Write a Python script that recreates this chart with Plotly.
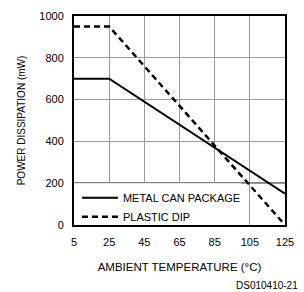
import plotly.graph_objects as go

# Data
temp_metal = [5, 25, 125]
power_metal = [700, 700, 150]
temp_dip = [5, 25, 125]
power_dip = [950, 950, 0]
x_ticks = [5, 25, 45, 65, 85, 105, 125]
y_ticks = [0, 200, 400, 600, 800, 1000]
series_names = ["METAL CAN PACKAGE", "PLASTIC DIP"]

FONT = "Liberation Sans, Arial, sans-serif"

fig = go.Figure()
fig.add_trace(go.Scatter(x=temp_metal, y=power_metal, mode="lines", name=series_names[0],
                         line=dict(color="black", width=2)))
fig.add_trace(go.Scatter(x=temp_dip, y=power_dip, mode="lines", name=series_names[1],
                         line=dict(color="black", width=2.5, dash="6px,4px")))

# white legend box covering grid below 200
fig.add_shape(type="rect", xref="x", yref="y", x0=5, x1=100, y0=0, y1=200,
              fillcolor="white", line=dict(width=0), layer="between")
fig.add_shape(type="line", xref="paper", yref="y", x0=0, x1=1, y0=200, y1=200,
              line=dict(color="black", width=1.5), layer="between")

fig.update_xaxes(range=[5, 125], tickvals=x_ticks, ticktext=[str(v) for v in x_ticks],
                 showgrid=True, gridcolor="#9a9a9a", gridwidth=1,
                 showline=True, linecolor="black", linewidth=2, mirror=True,
                 ticks="", zeroline=False, ticklabelstandoff=6,
                 tickfont=dict(family=FONT, size=11, color="black"),
                 title=dict(text="AMBIENT TEMPERATURE (°C)", standoff=16,
                            font=dict(family=FONT, size=11.5, color="black")))
fig.update_yaxes(range=[0, 1000], tickvals=y_ticks, ticktext=[str(v) for v in y_ticks],
                 showgrid=True, gridcolor="#9a9a9a", gridwidth=1,
                 showline=True, linecolor="black", linewidth=2, mirror=True,
                 ticks="", zeroline=False, ticklabelstandoff=6,
                 tickfont=dict(family=FONT, size=11, color="black"),
                 title=dict(text="POWER DISSIPATION (mW)", standoff=12,
                            font=dict(family=FONT, size=10, color="black")))

fig.add_annotation(text="DS010410-21", xref="paper", yref="paper", x=1.07, y=-0.288,
                   xanchor="right", yanchor="middle", showarrow=False,
                   font=dict(family=FONT, size=10, color="black"))

fig.update_layout(
    width=304, height=292,
    margin=dict(l=74, r=14, t=10, b=67),
    paper_bgcolor="white", plot_bgcolor="white",
    showlegend=True,
    legend=dict(x=0.014, y=0.2, xanchor="left", yanchor="top",
                bgcolor="rgba(0,0,0,0)", borderwidth=0,
                font=dict(family=FONT, size=11, color="black"),
                tracegroupgap=0, itemwidth=36),
)

fig.write_html("out.html", config={"displayModeBar": False},
               post_script="document.body.style.margin='0px';")
